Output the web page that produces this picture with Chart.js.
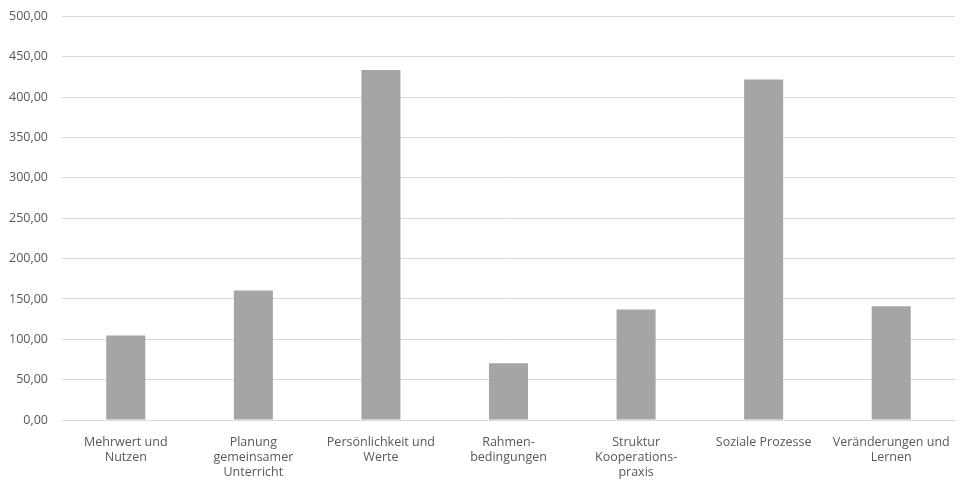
<!DOCTYPE html>
<html lang="de">
<head>
    <meta charset="UTF-8">
    <title>Kategorien</title>
    <script src="https://cdn.jsdelivr.net/npm/chart.js"></script>
    <style>
        html, body { margin: 0; padding: 0; background: #fff; overflow: hidden; }
        .chart-container { position: relative; width: 963px; height: 489px; margin-top: -5px; }
    </style>
</head>
<body>
    <div class="chart-container">
        <canvas id="categoryChart"></canvas>
    </div>

    <script>
        // Kategorien (mehrzeilige Beschriftungen) und Werte
        const categories = [
            ['Mehrwert und', 'Nutzen'],
            ['Planung', 'gemeinsamer', 'Unterricht'],
            ['Persönlichkeit und', 'Werte'],
            ['Rahmen-', 'bedingungen'],
            ['Struktur', 'Kooperations-', 'praxis'],
            ['Soziale Prozesse'],
            ['Veränderungen und', 'Lernen']
        ];
        const values = [104.6, 160.5, 433.7, 70.4, 136.8, 421.8, 140.9];
        const yTicks = [0, 50, 100, 150, 200, 250, 300, 350, 400, 450, 500];

        const labelFont = { family: "'Open Sans', 'Noto Sans', sans-serif", size: 12.5 };
        const textColor = '#595959';

        const ctx = document.getElementById('categoryChart').getContext('2d');
        new Chart(ctx, {
            type: 'bar',
            data: {
                labels: categories,
                datasets: [{
                    data: values,
                    backgroundColor: '#a5a5a5',
                    borderWidth: 0,
                    barPercentage: 0.306,
                    categoryPercentage: 1
                }]
            },
            options: {
                responsive: true,
                maintainAspectRatio: false,
                animation: false,
                layout: { padding: { top: 4, right: 8, left: 0, bottom: 0 } },
                scales: {
                    y: {
                        min: 0,
                        max: 500,
                        afterBuildTicks: axis => { axis.ticks = yTicks.map(v => ({ value: v })); },
                        afterFit: axis => { axis.width = 62; },
                        border: { display: false },
                        grid: { color: '#d9d9d9', lineWidth: 1, drawTicks: false },
                        ticks: {
                            padding: 14,
                            color: textColor,
                            font: labelFont,
                            callback: v => v.toFixed(2).replace('.', ',')
                        }
                    },
                    x: {
                        afterFit: axis => { axis.height = 64; },
                        border: { display: false },
                        grid: { display: false },
                        ticks: {
                            padding: 7,
                            maxRotation: 0,
                            autoSkip: false,
                            color: textColor,
                            font: { ...labelFont, lineHeight: 1.2 }
                        }
                    }
                },
                plugins: {
                    legend: { display: false },
                    tooltip: { enabled: false }
                }
            }
        });
    </script>
</body>
</html>
